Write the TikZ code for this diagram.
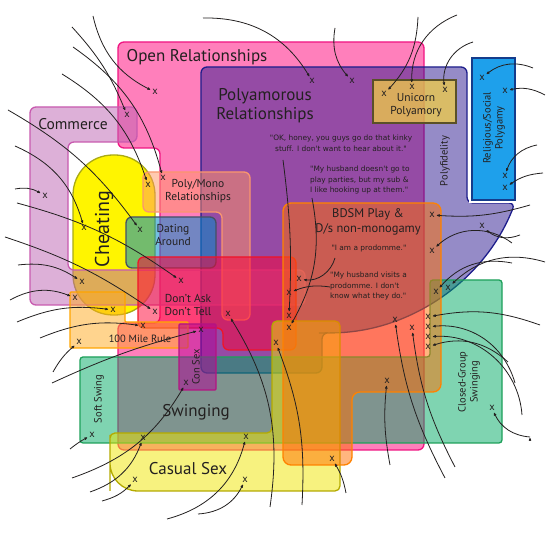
\documentclass[tikz,border=0pt]{standalone}
\usepackage{fontspec}
\setmainfont{PT Sans}
\newfontfamily\quotefont{DejaVu Sans}
\usetikzlibrary{arrows.meta}

\definecolor{ink}{RGB}{35,32,32}
\definecolor{openpink}{RGB}{255,0,120}
\definecolor{openline}{RGB}{240,20,130}
\definecolor{polyfill}{RGB}{45,25,145}
\definecolor{polyline}{RGB}{30,30,140}
\definecolor{commfill}{RGB}{189,99,179}
\definecolor{commline}{RGB}{200,90,175}
\definecolor{cheatfill}{RGB}{255,245,0}
\definecolor{cheatline}{RGB}{170,170,20}
\definecolor{monofill}{RGB}{255,150,100}
\definecolor{monoline}{RGB}{250,150,110}
\definecolor{datefill}{RGB}{0,140,200}
\definecolor{dateline}{RGB}{70,80,100}
\definecolor{askfill}{RGB}{255,0,50}
\definecolor{askline}{RGB}{240,20,40}
\definecolor{milefill}{RGB}{255,170,30}
\definecolor{mileline}{RGB}{255,165,0}
\definecolor{confill}{RGB}{180,0,150}
\definecolor{conline}{RGB}{180,20,130}
\definecolor{swingfill}{RGB}{0,170,100}
\definecolor{swingline}{RGB}{30,160,90}
\definecolor{casualfill}{RGB}{240,230,0}
\definecolor{casualline}{RGB}{180,170,0}
\definecolor{bdsmfill}{RGB}{255,110,0}
\definecolor{bdsmline}{RGB}{255,130,0}
\definecolor{unifill}{RGB}{240,205,70}
\definecolor{uniline}{RGB}{90,80,40}
\definecolor{relfill}{RGB}{30,160,235}
\definecolor{relline}{RGB}{20,60,140}

\begin{document}
\begin{tikzpicture}[
        x=1pt, y=1pt,
        shorten >=1pt, >={Stealth[round,length=4.5pt,width=3.5pt]},
        region/.style={line width=1.3pt, fill opacity=0.5, rounded corners=6pt},
        xmark/.style={font=\fontsize{10.5}{10.5}\selectfont, inner sep=1pt, text=ink},
        pointer/.style={->, draw=ink, line width=0.8pt},
        biglabel/.style={font=\fontsize{17}{19}\selectfont, text=ink, align=center},
        midlabel/.style={font=\fontsize{11.5}{13.5}\selectfont, text=ink, align=center},
        smalllabel/.style={font=\fontsize{10.5}{12}\selectfont, text=ink, align=center},
        quotetext/.style={font=\quotefont\fontsize{7.4}{10.6}\selectfont, text=ink, align=left, inner sep=0pt},
        ]

        \fill[white] (0,0) rectangle (550,533);
        \useasboundingbox (0,0) rectangle (550,533);

        % regions
        \filldraw[region, fill=openpink, draw=openline]
          (118,491) -- (424,491) -- (424,83) -- (118,83) -- (118,210) -- (160,210) -- (160,385) -- (118,385) -- cycle;
        \filldraw[region, fill=polyfill, draw=polyline]
          (201,466) -- (467,466) -- (467,330) -- (515,330) arc[start angle=-21.3, end angle=-90, radius=204]
          -- (322,200) -- (322,160) -- (201,160) -- cycle;
        \filldraw[fill=cheatfill, draw=cheatline, line width=1.3pt, rounded corners=40pt] (73,218) rectangle (155,378);
        \filldraw[region, fill=commfill, draw=commline]
          (30,426) -- (137,426) -- (137,391) -- (68,391) -- (68,263) -- (305,263) -- (305,228) -- (30,228) -- cycle;
        \filldraw[region, fill=monofill, draw=monoline]
          (143,361) -- (250,361) -- (250,213) -- (222,213) -- (222,321) -- (143,321) -- cycle;
        \filldraw[region, fill=datefill, draw=dateline, fill opacity=0.55] (126,265) rectangle (216,316);
        \filldraw[region, fill=askfill, draw=askline]
          (138,276) -- (296,276) -- (296,183) -- (223,183) -- (223,205) -- (138,205) -- cycle;
        \filldraw[region, fill=milefill, draw=mileline, rounded corners=1pt]
          (70,241) -- (125,241) -- (125,211) -- (188,211) -- (188,185) -- (70,185) -- cycle;
        \filldraw[region, fill=swingfill, draw=swingline, rounded corners=3pt]
          (80,176) -- (430,176) -- (430,253) -- (502,253) -- (502,90) -- (80,90) -- cycle;
        \filldraw[region, fill=casualfill, draw=casualline, rounded corners=5pt]
          (225,42) [rounded corners=28pt] -- (110,42) -- (110,70) [rounded corners=5pt] -- (110,100)
          -- (272,100) -- (272,212) -- (340,212) -- (340,42) -- cycle;
        \filldraw[region, fill=bdsmfill, draw=bdsmline, rounded corners=8pt]
          (283,330) -- (441,330) -- (441,141) -- (352,141) -- (352,68) -- (283,68) -- cycle;
        \filldraw[region, fill=confill, draw=conline, rounded corners=1pt] (179,209) rectangle (216,143);
        \filldraw[region, fill=unifill, draw=uniline, fill opacity=0.75, rounded corners=0pt] (373,453) rectangle (456,410);
        \draw[white, line width=6pt] (472,475) rectangle (515,333);
        \filldraw[fill=relfill, draw=relline, line width=1.2pt] (472,475) rectangle (515,333);

        % labels
        \node[biglabel] (open)     at (197,476) {Open Relationships};
        \node[biglabel] (polyam)   at (265,427) {Polyamorous\\Relationships};
        \node[biglabel, font=\fontsize{15.5}{17}\selectfont] (commerce) at (73,409) {Commerce};
        \node[biglabel, font=\fontsize{20}{22}\selectfont, rotate=90] (cheat) at (104,304) {Cheating};
        \node[midlabel] (polymono) at (198,342) {Poly/Mono\\Relationships};
        \node[midlabel] (dating)   at (173,298) {Dating\\Around};
        \node[midlabel] (dadt)     at (188,228) {Don't Ask\\Don't Tell};
        \node[smalllabel] (mile)   at (140,194) {100 Mile Rule};
        \node[smalllabel, rotate=90] (consex) at (196,166) {Con Sex};
        \node[smalllabel, rotate=90] (soft)   at (99,134) {Soft Swing};
        \node[biglabel] (swing)    at (196,121) {Swinging};
        \node[biglabel] (casual)   at (188,64) {Casual Sex};
        \node[smalllabel, rotate=90] (closed) at (469,151) {Closed-Group\\Swinging};
        \node[smalllabel, rotate=90] (polyfi) at (445,372) {Polyfidelity};
        \node[smalllabel, rotate=90] (relig)  at (494,405) {Religious/Social\\Polygamy};
        \node[midlabel] (unicorn)  at (416,428) {Unicorn\\Polyamory};
        \node[midlabel, font=\fontsize{12.5}{15}\selectfont] (bdsm) at (368,311) {BDSM Play \&\\D/s non-monogamy};
        \node[quotetext, align=center] (q_honey) at (341,390) {"OK, honey, you guys go do that kinky\\stuff. I don't want to hear about it."};
        \node[quotetext, anchor=west] (q_sub)    at (310,353) {"My husband doesn't go to\\play parties, but my sub \&\\I like hooking up at them."};
        \node[quotetext] (q_pro)    at (369,285) {"I am a prodomme."};
        \node[quotetext, anchor=west] (q_visit)  at (330,247) {"My husband visits a\\prodomme. I don't\\know what they do."};

        % marks
        \node[xmark] (m_1)  at (155,441) {x};   \coordinate (s_1)  at (93,517);
        \node[xmark] (m_2)  at (127,418) {x};   \coordinate (s_2)  at (72,506);
        \node[xmark] (m_3)  at (163,355) {x};   \coordinate (s_3)  at (73,486);
        \node[xmark] (m_4)  at (148,348) {x};   \coordinate (s_4)  at (62,459);
        \node[xmark] (m_5)  at (140,303) {x};   \coordinate (s_5)  at (8,423);
        \node[xmark] (m_6)  at (84,305) {x};    \coordinate (s_6)  at (15,387);
        \node[xmark] (m_7)  at (45,337) {x};    \coordinate (s_7)  at (15,344);
        \node[xmark] (m_8)  at (181,252) {x};   \coordinate (s_8)  at (17,330);
        \node[xmark] (m_9)  at (155,221) {x};   \coordinate (s_9)  at (5,296);
        \node[xmark] (m_10) at (82,251) {x};    \coordinate (s_10) at (18,268);
        \node[xmark] (m_11) at (75,235) {x};    \coordinate (s_11) at (10,233);
        \node[xmark] (m_12) at (113,223) {x};   \coordinate (s_12) at (17,211);
        \node[xmark] (m_13) at (143,207) {x};   \coordinate (s_13) at (40,195);
        \node[xmark] (m_14) at (79,191) {x};    \coordinate (s_14) at (53,161);
        \node[xmark] (m_15) at (201,203) {x};   \coordinate (s_15) at (52,150);
        \node[xmark] (m_16) at (186,150) {x};   \coordinate (s_16) at (72,55);
        \node[xmark] (m_17) at (92,98) {x};     \coordinate (s_17) at (70,84);
        \node[xmark] (m_18) at (143,95) {x};    \coordinate (s_18) at (90,41);
        \node[xmark] (m_19) at (135,53) {x};    \coordinate (s_19) at (102,32);
        \node[xmark] (m_20) at (246,96) {x};    \coordinate (s_20) at (167,14);
        \node[xmark] (m_21) at (245,53) {x};    \coordinate (s_21) at (198,19);
        \node[xmark] (m_22) at (228,219) {x};   \coordinate (s_22) at (270,26);
        \node[xmark] (m_23) at (276,190) {x};   \coordinate (s_23) at (302,28);
        \node[xmark] (m_24) at (299,254) {x};   \coordinate (s_24) at (335,275);
        \node[xmark] (m_25) at (289,240) {x};   \coordinate (s_25) at (330,246);
        \node[xmark] (m_26) at (289,217) {x};   \coordinate (s_26) at (283,373);
        \node[xmark] (m_27) at (289,205) {x};   \coordinate (s_27) at (312,335);
        \node[xmark] (m_28) at (312,452) {x};   \coordinate (s_28) at (203,515);
        \node[xmark] (m_29) at (352,452) {x};   \coordinate (s_29) at (335,505);
        \node[xmark] (m_30) at (384,439) {x};   \coordinate (s_30) at (418,516);
        \node[xmark] (m_31) at (412,446) {x};   \coordinate (s_31) at (457,518);
        \node[xmark] (m_32) at (445,443) {x};   \coordinate (s_32) at (473,491);
        \node[xmark] (m_33) at (482,455) {x};   \coordinate (s_33) at (533,465);
        \node[xmark] (m_34) at (505,442) {x};   \coordinate (s_34) at (545,438);
        \node[xmark] (m_35) at (505,357) {x};   \coordinate (s_35) at (537,388);
        \node[xmark] (m_36) at (505,345) {x};   \coordinate (s_36) at (543,360);
        \node[xmark] (m_37) at (432,318) {x};   \coordinate (s_37) at (530,328);
        \node[xmark] (m_38) at (482,307) {x};   \coordinate (s_38) at (520,298);
        \node[xmark] (m_39) at (432,282) {x};   \coordinate (s_39) at (512,290);
        \node[xmark] (m_40) at (436,241) {x};   \coordinate (s_40) at (512,270);
        \node[xmark] (m_41) at (448,245) {x};   \coordinate (s_41) at (545,271);
        \node[xmark] (m_42) at (428,216) {x};   \coordinate (s_42) at (540,208);
        \node[xmark] (m_43) at (428,206) {x};   \coordinate (s_43) at (515,150);
        \node[xmark] (m_44) at (428,196) {x};   \coordinate (s_44) at (522,118);
        \node[xmark] (m_45) at (428,186) {x};   \coordinate (s_45) at (508,171);
        \node[xmark] (m_46) at (395,213) {x};   \coordinate (s_46) at (445,55);
        \node[xmark] (m_47) at (412,205) {x};   \coordinate (s_47) at (455,66);
        \node[xmark] (m_48) at (387,152) {x};   \coordinate (s_48) at (390,68);
        \node[xmark] (m_49) at (332,74) {x};    \coordinate (s_49) at (346,40);
        \node[xmark] (m_50) at (492,125) {x};   \coordinate (s_50) at (530,96);

        % pointers
        \path[pointer]
        (s_1) edge[bend right=25] (m_1)
        (s_2) edge[bend left=10] (m_2)
        (s_3) edge[bend left=20] (m_3)
        (s_4) edge[bend left=20] (m_4)
        (s_5) edge[bend left=12] (m_5)
        (s_6) edge[bend left=25] (m_6)
        (s_7) edge[bend left=20] (m_7)
        (s_8) edge[bend left=10] (m_8)
        (s_9) edge[bend left=8] (m_9)
        (s_10) edge[bend left=20] (m_10)
        (s_11) edge[bend left=25] (m_11)
        (s_12) edge[bend left=15] (m_12)
        (s_13) edge[bend left=15] (m_13)
        (s_14) edge[bend left=10] (m_14)
        (s_15) edge[bend left=5] (m_15)
        (s_16) edge[bend right=20] (m_16)
        (s_17) edge[bend left=5] (m_17)
        (s_18) edge[bend right=25] (m_18)
        (s_19) edge[bend right=15] (m_19)
        (s_20) edge[bend right=30] (m_20)
        (s_21) edge[bend right=30] (m_21)
        (s_22) edge[bend right=20] (m_22)
        (s_23) edge[bend right=12] (m_23)
        (s_24) edge[bend left=40] (m_24)
        (s_25) edge[bend right=15] (m_25)
        (s_26) edge[bend left=5] (m_26)
        (s_27) edge[bend left=20] (m_27)
        (s_28) edge[bend left=30] (m_28)
        (s_29) edge[bend right=25] (m_29)
        (s_30) edge[bend left=20] (m_30)
        (s_31) edge[bend right=35] (m_31)
        (s_32) edge[bend right=40] (m_32)
        (s_33) edge[bend right=30] (m_33)
        (s_34) edge[bend right=20] (m_34)
        (s_35) edge[bend right=30] (m_35)
        (s_36) edge[bend right=15] (m_36)
        (s_37) edge[bend left=10] (m_37)
        (s_38) edge[bend left=30] (m_38)
        (s_39) edge[bend right=40] (m_39)
        (s_40) edge[bend right=30] (m_40)
        (s_41) edge[bend right=30] (m_41)
        (s_42) edge[bend right=15] (m_42)
        (s_43) edge[bend right=40] (m_43)
        (s_44) edge[bend right=45] (m_44)
        (s_45) edge[bend right=30] (m_45)
        (s_46) edge[bend left=10] (m_46)
        (s_47) edge[bend left=10] (m_47)
        (s_48) edge[bend left=8] (m_48)
        (s_49) edge[bend right=10] (m_49)
        (s_50) edge[bend left=30] (m_50);
      \end{tikzpicture}
\end{document}
